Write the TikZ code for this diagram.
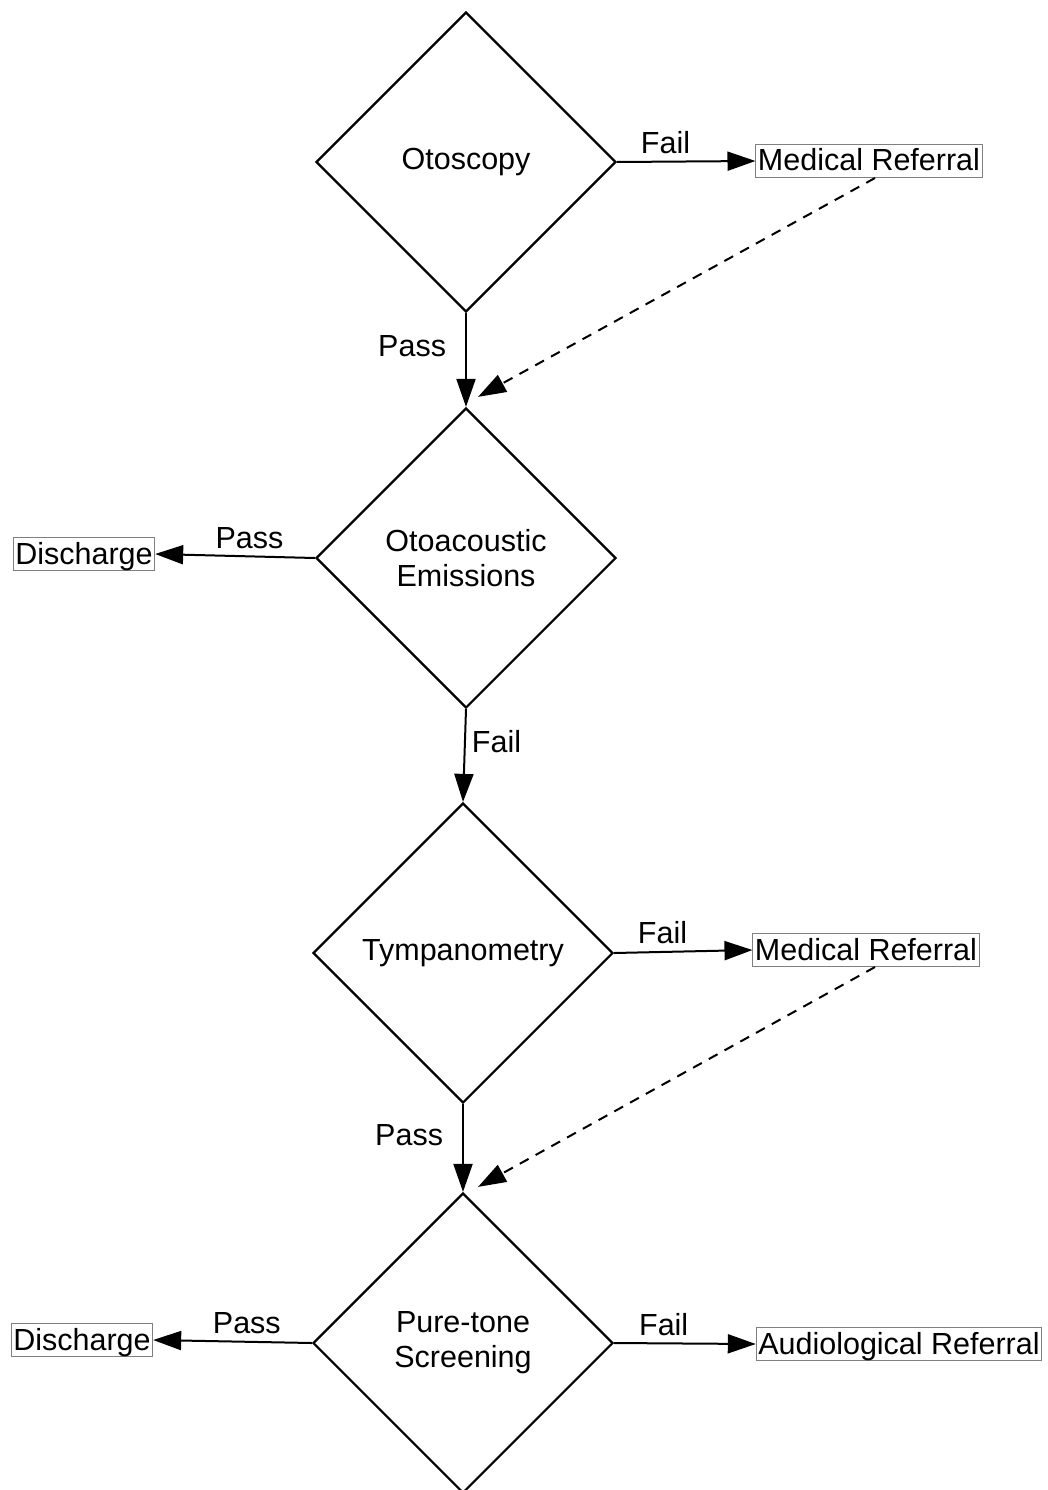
\documentclass[tikz,border=0pt]{standalone}
\usepackage{fontspec}
\setmainfont{Liberation Sans}
\usetikzlibrary{shapes.geometric,arrows.meta}
\begin{document}
\begin{tikzpicture}[x=1pt,y=-1pt,
  every node/.style={font=\fontsize{30.5}{35}\selectfont},
  test/.style={diamond,draw,line width=2.2pt,minimum width=300pt,minimum height=300pt,
    inner sep=0pt,align=center},
  outcome/.style={draw=gray,line width=1pt,inner xsep=2pt,inner ysep=1.5pt,
    text height=25pt,text depth=5pt},
  flow/.style={line width=2pt,-{Triangle[length=28pt,width=19pt]}},
  back/.style={flow,dash pattern=on 10pt off 8pt},
  hlbl/.style={inner xsep=2pt,inner ysep=7pt,above},
  vlbl/.style={inner xsep=6pt,inner ysep=2pt,pos=0.35}]
\useasboundingbox (0,0) rectangle (1048,1490);
% tests
\node[test] (oto) at (466,162) {Otoscopy};
\node[test] (oae) at (466,558) {Otoacoustic\\Emissions};
\node[test] (tym) at (463,953) {Tympanometry};
\node[test] (pts) at (463,1343) {Pure-tone\\Screening};
% outcomes
\node[outcome] (med1) at (869,161) {Medical Referral};
\node[outcome] (dis1) at (84,554) {Discharge};
\node[outcome] (med2) at (866,950) {Medical Referral};
\node[outcome] (dis2) at (82,1340) {Discharge};
\node[outcome] (aud) at (899,1344) {Audiological Referral};
% connectors
\draw[flow] (oto.east) -- node[hlbl,pos=0.35] (l1) {Fail} (med1.west);
\draw[flow] (oto.south) -- node[vlbl,left,inner xsep=19pt] (l2) {Pass} (oae.north);
\draw[back] ([xshift=6pt]med1.south) -- ([xshift=12pt,yshift=10pt]oae.north);
\draw[flow] (oae.west) -- node[hlbl,pos=0.41] (l3) {Pass} (dis1.east);
\draw[flow] (oae.south) -- node[vlbl,right] (l4) {Fail} (tym.north);
\draw[flow] (tym.east) -- node[hlbl,pos=0.35] (l5) {Fail} (med2.west);
\draw[flow] (tym.south) -- node[vlbl,left,inner xsep=19pt] (l6) {Pass} (pts.north);
\draw[back] ([xshift=9pt]med2.south) -- ([xshift=15pt,yshift=5pt]pts.north);
\draw[flow] (pts.west) -- node[hlbl,pos=0.41] (l7) {Pass} (dis2.east);
\draw[flow] (pts.east) -- node[hlbl,pos=0.35] (l8) {Fail} (aud.west);
\end{tikzpicture}
\end{document}
